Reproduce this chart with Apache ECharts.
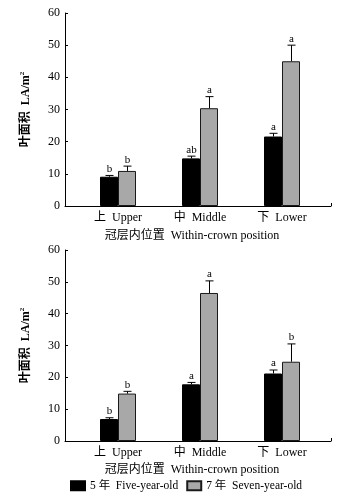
<!DOCTYPE html>
<html>
<head>
<meta charset="utf-8">
<script src="https://cdn.jsdelivr.net/npm/echarts@6/dist/echarts.min.js"></script>
<style>
  html, body { margin: 0; padding: 0; background: #fff; }
  #chart { width: 348px; height: 498px; }
</style>
</head>
<body>
<div id="chart"></div>
<script>
// categories and legend
var categories = ["上  Upper", "中  Middle", "下  Lower"];
var seriesNames = ["5 年  Five-year-old", "7 年  Seven-year-old"];
var yTicks = [0, 10, 20, 30, 40, 50, 60];

// top panel
var topFive = [9.1, 14.8, 21.6];
var topFiveErr = [0.4, 0.7, 1.0];
var topFiveSig = ["b", "ab", "a"];
var topSeven = [10.9, 30.4, 45.0];
var topSevenErr = [1.5, 3.6, 5.0];
var topSevenSig = ["b", "a", "a"];

// bottom panel
var botFive = [6.9, 17.8, 21.2];
var botFiveErr = [0.4, 0.6, 1.1];
var botFiveSig = ["b", "a", "a"];
var botSeven = [14.9, 46.5, 24.9];
var botSevenErr = [0.7, 3.8, 5.6];
var botSevenSig = ["b", "a", "b"];

var FONT = '"Liberation Serif", "Noto Sans CJK SC", serif';
var BAR_W = 18;

var chart = echarts.init(document.getElementById("chart"));

var grids = [];
var xAxes = [];
var yAxes = [];
var series = [];

function errorBars(values, errs, sigs, offset) {
  return function (params, api) {
    var idx = params.dataIndex;
    var base = api.coord([idx, values[idx]]);
    var top = api.coord([idx, values[idx] + errs[idx]]);
    var x = Math.round(base[0] + offset) + 0.5;
    return {
      type: "group",
      children: [
        {
          type: "line",
          shape: { x1: x, y1: base[1], x2: x, y2: top[1] },
          style: { stroke: "#000", lineWidth: 1 },
        },
        {
          type: "line",
          shape: { x1: x - 4, y1: top[1], x2: x + 4, y2: top[1] },
          style: { stroke: "#000", lineWidth: 1 },
        },
        {
          type: "text",
          x: x,
          y: top[1] - 1,
          style: {
            text: sigs[idx],
            align: "center",
            verticalAlign: "bottom",
            fontFamily: FONT,
            fontSize: 11,
            fill: "#000",
          },
        },
      ],
    };
  };
}

function addPanel(top, height, five, fiveErr, fiveSig, seven, sevenErr, sevenSig) {
  var g = grids.length;
  // frame grid: axes lines and y labels
  grids.push({ left: 65, width: 266, top: top, height: height });
  // data grid: bars
  grids.push({ left: 77, width: 246, top: top, height: height });

  xAxes.push({
    gridIndex: g,
    type: "value",
    min: 0,
    max: 1,
    axisLine: { show: true, lineStyle: { color: "#000", width: 1 } },
    axisTick: {
      show: true,
      inside: true,
      length: 3,
      customValues: [1],
      lineStyle: { color: "#000" },
    },
    axisLabel: { show: false },
    splitLine: { show: false },
  });
  xAxes.push({
    gridIndex: g + 1,
    type: "category",
    data: categories,
    axisLine: { show: false },
    axisTick: { show: false },
    axisLabel: {
      margin: 6,
      color: "#000",
      fontFamily: FONT,
      fontSize: 12,
    },
  });

  yAxes.push({
    gridIndex: g,
    type: "value",
    min: 0,
    max: 60,
    interval: 10,
    name: "叶面积  LA/m{sup|2}",
    nameLocation: "middle",
    nameGap: 33,
    nameTextStyle: {
      color: "#000",
      fontFamily: FONT,
      fontSize: 12,
      fontWeight: "bold",
      rich: {
        sup: { fontSize: 7, verticalAlign: "top", padding: [0, 0, 6, 0], fontFamily: FONT },
      },
    },
    axisLine: { show: true, lineStyle: { color: "#000", width: 1 } },
    axisTick: { show: true, inside: true, length: 3, lineStyle: { color: "#000" } },
    axisLabel: {
      margin: 5,
      color: "#000",
      fontFamily: FONT,
      fontSize: 12,
      formatter: function (v) {
        return yTicks.indexOf(v) >= 0 ? String(v) : "";
      },
    },
    splitLine: { show: false },
  });
  yAxes.push({
    gridIndex: g + 1,
    type: "value",
    min: 0,
    max: 60,
    show: false,
  });

  series.push({
    name: seriesNames[0],
    type: "bar",
    xAxisIndex: g + 1,
    yAxisIndex: g + 1,
    barWidth: BAR_W,
    barGap: 0,
    itemStyle: { color: "#000", borderColor: "#000", borderWidth: 1 },
    data: five,
    z: 2,
  });
  series.push({
    name: seriesNames[1],
    type: "bar",
    xAxisIndex: g + 1,
    yAxisIndex: g + 1,
    barWidth: BAR_W,
    barGap: 0,
    itemStyle: { color: "#a8a8a8", borderColor: "#1a1a1a", borderWidth: 1 },
    data: seven,
    z: 2,
  });
  series.push({
    type: "custom",
    xAxisIndex: g + 1,
    yAxisIndex: g + 1,
    renderItem: errorBars(five, fiveErr, fiveSig, -BAR_W / 2),
    data: five.map(function (v, i) { return [i, v]; }),
    z: 3,
  });
  series.push({
    type: "custom",
    xAxisIndex: g + 1,
    yAxisIndex: g + 1,
    renderItem: errorBars(seven, sevenErr, sevenSig, BAR_W / 2),
    data: seven.map(function (v, i) { return [i, v]; }),
    z: 3,
  });
}

addPanel(13, 193, topFive, topFiveErr, topFiveSig, topSeven, topSevenErr, topSevenSig);
addPanel(250, 191, botFive, botFiveErr, botFiveSig, botSeven, botSevenErr, botSevenSig);

chart.setOption({
  animation: false,
  backgroundColor: "#fff",
  grid: grids,
  xAxis: xAxes,
  yAxis: yAxes,
  series: series,
  legend: {
    data: seriesNames,
    icon: "rect",
    left: 70,
    top: 480,
    padding: 0,
    itemWidth: 14,
    itemHeight: 9,
    itemGap: 8,
    textStyle: { color: "#000", fontFamily: FONT, fontSize: 11.5 },
  },
  graphic: [
    {
      type: "text",
      x: 192,
      y: 236,
      style: {
        text: "冠层内位置  Within-crown position",
        align: "center",
        verticalAlign: "middle",
        fontFamily: FONT,
        fontSize: 12,
        fill: "#000",
      },
    },
    {
      type: "text",
      x: 192,
      y: 470,
      style: {
        text: "冠层内位置  Within-crown position",
        align: "center",
        verticalAlign: "middle",
        fontFamily: FONT,
        fontSize: 12,
        fill: "#000",
      },
    },
  ],
});
</script>
</body>
</html>
